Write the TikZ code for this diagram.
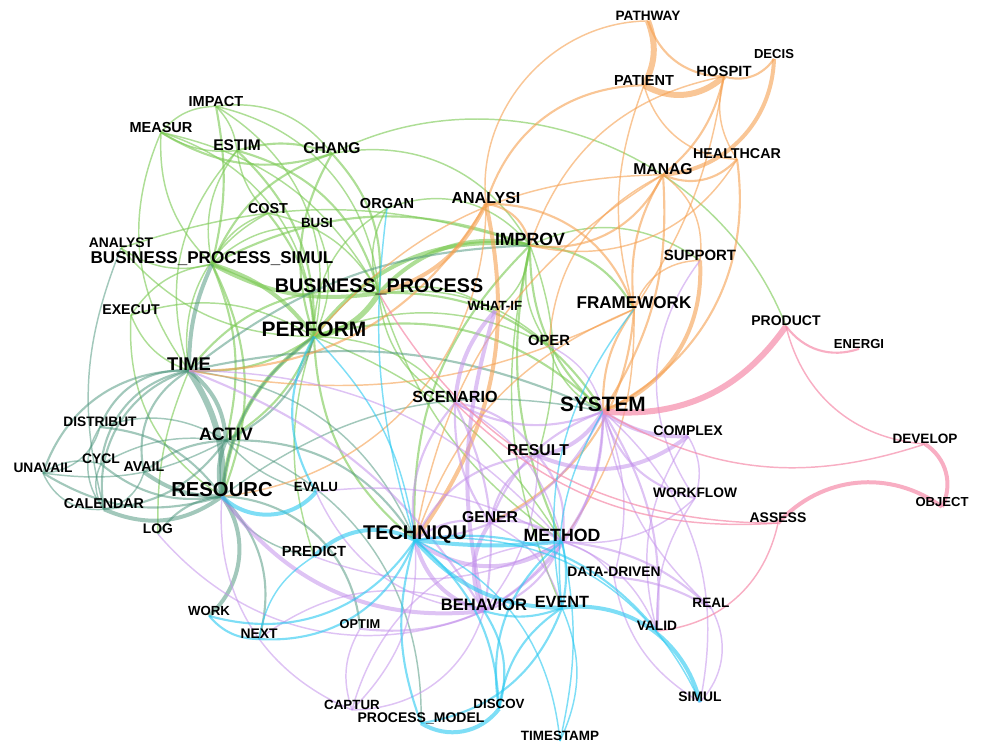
\documentclass[tikz,border=0pt]{standalone}
\usepackage{fontspec}
\setmainfont{Liberation Sans}
\usetikzlibrary{backgrounds}
\definecolor{cGreen}{RGB}{120,200,80}
\definecolor{cTeal}{RGB}{70,145,120}
\definecolor{cOrange}{RGB}{245,160,80}
\definecolor{cPurple}{RGB}{195,145,235}
\definecolor{cCyan}{RGB}{40,200,240}
\definecolor{cPink}{RGB}{245,140,170}
\begin{document}
\begin{tikzpicture}[x=0.75pt,y=-0.75pt,
  lb/.style={font=\bfseries\fontsize{#1}{#1}\selectfont,inner sep=0pt,text depth=0pt},
  eg/.style={draw=cGreen,draw opacity=0.6},
  et/.style={draw=cTeal,draw opacity=0.5},
  eo/.style={draw=cOrange,draw opacity=0.6},
  ep/.style={draw=cPurple,draw opacity=0.55},
  ec/.style={draw=cCyan,draw opacity=0.6},
  ek/.style={draw=cPink,draw opacity=0.7},
  arc/.style={out={1.2*(#1)},in={180-1.2*(#1)},relative}]
\useasboundingbox (0,0) rectangle (981,743);

% keyword labels
\node[lb=10.2] (pathway) at (648,16) {PATHWAY};
\node[lb=9.8] (decis) at (774,54) {DECIS};
\node[lb=11.1] (hospit) at (724,71) {HOSPIT};
\node[lb=10.9] (patient) at (644,80) {PATIENT};
\node[lb=10.7] (healthcar) at (737,154) {HEALTHCAR};
\node[lb=11.8] (manag) at (663,169) {MANAG};
\node[lb=12] (analysi) at (486,198) {ANALYSI};
\node[lb=13.3] (improv) at (530,239) {IMPROV};
\node[lb=11.2] (support) at (700,255) {SUPPORT};
\node[lb=12.8] (framework) at (634,303) {FRAMEWORK};
\node[lb=11.1] (oper) at (549,340) {OPER};
\node[lb=10] (whatif) at (495,306) {WHAT-IF};
\node[lb=10.5] (product) at (786,321) {PRODUCT};
\node[lb=9.8] (energi) at (859,344) {ENERGI};
\node[lb=10.2] (develop) at (925,439) {DEVELOP};
\node[lb=9.8] (object) at (942,502) {OBJECT};
\node[lb=10.5] (assess) at (778,518) {ASSESS};
\node[lb=15.6] (system) at (603,404) {SYSTEM};
\node[lb=10.5] (complex) at (688,431) {COMPLEX};
\node[lb=11.8] (result) at (538,450) {RESULT};
\node[lb=10.3] (workflow) at (695,493) {WORKFLOW};
\node[lb=12.1] (scenario) at (455,397) {SCENARIO};
\node[lb=11.8] (gener) at (490,517) {GENER};
\node[lb=13.3] (method) at (562,535) {METHOD};
\node[lb=10.4] (datadriven) at (614,572) {DATA-DRIVEN};
\node[lb=12.4] (behavior) at (484,605) {BEHAVIOR};
\node[lb=12.2] (event) at (562,602) {EVENT};
\node[lb=10.2] (real) at (711,603) {REAL};
\node[lb=10.3] (valid) at (657,626) {VALID};
\node[lb=10.4] (simul) at (700,697) {SIMUL};
\node[lb=14.9] (techniqu) at (415,533) {TECHNIQU};
\node[lb=10] (discov) at (499,704) {DISCOV};
\node[lb=10.5] (procmodel) at (421,718) {PROCESS\_MODEL};
\node[lb=10.1] (timestamp) at (560,736) {TIMESTAMP};
\node[lb=10] (captur) at (352,705) {CAPTUR};
\node[lb=9.6] (optim) at (360,624) {OPTIM};
\node[lb=10.4] (next) at (259,634) {NEXT};
\node[lb=9.9] (work) at (209,611) {WORK};
\node[lb=11] (predict) at (314,551) {PREDICT};
\node[lb=10] (evalu) at (316,487) {EVALU};
\node[lb=15.2] (resourc) at (222,489) {RESOURC};
\node[lb=10.4] (log) at (158,529) {LOG};
\node[lb=10.7] (calendar) at (104,504) {CALENDAR};
\node[lb=10.7] (avail) at (144,467) {AVAIL};
\node[lb=10.3] (unavail) at (43,468) {UNAVAIL};
\node[lb=10.4] (cycl) at (101,459) {CYCL};
\node[lb=10.3] (distribut) at (100,422) {DISTRIBUT};
\node[lb=13.5] (activ) at (226,434) {ACTIV};
\node[lb=13.8] (time) at (189,364) {TIME};
\node[lb=10.6] (execut) at (131,310) {EXECUT};
\node[lb=15.7] (perform) at (314,329) {PERFORM};
\node[lb=14.8] (bp) at (379,286) {BUSINESS\_PROCESS};
\node[lb=12.8] (bps) at (212,258) {BUSINESS\_PROCESS\_SIMUL};
\node[lb=10.4] (analyst) at (121,243) {ANALYST};
\node[lb=10] (busi) at (317,223) {BUSI};
\node[lb=10.8] (cost) at (268,208) {COST};
\node[lb=10.9] (organ) at (387,203) {ORGAN};
\node[lb=11.7] (chang) at (332,148) {CHANG};
\node[lb=11.6] (estim) at (237,145) {ESTIM};
\node[lb=10.9] (measur) at (161,127) {MEASUR};
\node[lb=10.9] (impact) at (216,101) {IMPACT};

\begin{pgfonlayer}{background}
% green links
\foreach \a/\b/\w/\t in {impact/measur/1.1/-20, impact/estim/1.1/15, impact/bps/1.6/10,
  impact/perform/1.1/30, impact/chang/1.1/25, impact/bp/1.1/30, measur/estim/1.1/-15,
  measur/chang/1.6/-20, measur/bps/1.1/-20, measur/perform/1.1/30, measur/bp/1.1/20,
  measur/time/1.1/-25, estim/chang/1.6/15, estim/cost/1.1/-15, estim/bps/1.1/-20,
  estim/perform/1.6/20, estim/bp/1.6/25, estim/time/1.1/-25, chang/bp/1.6/20,
  chang/perform/1.6/-20, chang/improv/1.1/30, chang/bps/1.6/-20, chang/product/1.1/40,
  cost/bps/1.1/-20, cost/perform/1.6/15, cost/time/1.1/-30, cost/bp/1.1/20,
  busi/perform/1.1/20, busi/bps/1.1/-20, organ/bp/1.1/-20, organ/perform/1.1/-25,
  organ/improv/1.1/30, analyst/bps/1.1/-20, analyst/perform/1.1/-20, analyst/improv/1.1/15,
  bps/perform/3/15, bps/bp/3/-15, bps/execut/1.1/-20, bps/improv/1.6/20, bps/resourc/1.6/20,
  bps/activ/1.6/15, bp/perform/4/20, bp/improv/3/25, bp/time/1.6/-25, bp/whatif/1.1/20,
  bp/scenario/1.1/-25, bp/system/1.6/25, bp/oper/1.1/20, bp/method/1.1/-15,
  perform/improv/3/25, perform/time/1.6/15, perform/resourc/3/-20, perform/activ/1.6/15,
  perform/system/1.6/25, perform/techniqu/1.6/-20, perform/execut/1.1/-20, perform/oper/1.1/20,
  perform/predict/1.1/-15, perform/scenario/1.1/20, perform/method/1.1/15,
  improv/system/1.6/-20, improv/oper/1.1/-20, improv/whatif/1.1/20, improv/framework/1.6/25,
  improv/method/1.6/-15, improv/techniqu/1.6/-20, improv/support/1.1/25, improv/event/1.1/-15,
  improv/result/1.1/15, execut/time/1.1/-20, execut/resourc/1.1/-25, log/time/1.1/10,
  oper/system/1.1/-20}
  \draw[eg,line width=\w pt] (\a.south) to[arc=\t] (\b.south);
% teal links
\foreach \a/\b/\w/\t in {time/resourc/4.5/15, time/activ/3/20, activ/resourc/3/-15,
  time/distribut/1.6/-30, time/cycl/1.6/-30, time/unavail/1.6/-30, time/avail/1.6/-30,
  time/calendar/1.6/-35, resourc/distribut/1.6/-20, resourc/unavail/1.6/20, resourc/cycl/1.6/20,
  resourc/avail/3/15, resourc/calendar/3/25, resourc/log/1.6/-20, activ/distribut/1.1/-20,
  activ/unavail/1.1/15, activ/calendar/1.6/20, activ/avail/1.6/-15, activ/cycl/1.1/-15,
  calendar/unavail/1.1/30, calendar/distribut/1.1/30, calendar/cycl/1.1/25, calendar/avail/1.1/-25,
  distribut/unavail/1.1/30, cycl/unavail/1.1/-20, resourc/work/3/35, resourc/next/1.6/25,
  resourc/optim/1.6/35, activ/procmodel/1.1/30, time/system/1.6/15, time/improv/1.6/15,
  activ/perform/1.6/-20, resourc/perform/1.6/20, bps/time/3/-10, resourc/system/1.1/20,
  time/techniqu/1.1/25, activ/techniqu/1.6/25, resourc/predict/1.1/-20, calendar/analyst/1.1/15,
  activ/evalu/1.1/-15}
  \draw[et,line width=\w pt] (\a.south) to[arc=\t] (\b.south);
% orange links
\foreach \a/\b/\w/\t in {pathway/patient/4.5/20, hospit/pathway/1.6/30, analysi/pathway/1.1/40,
  hospit/patient/4.5/30, analysi/patient/1.6/30, decis/hospit/1.6/30, decis/manag/3/35,
  hospit/healthcar/1.1/-20, hospit/manag/1.6/15, patient/healthcar/1.1/-30,
  patient/framework/1.1/-15, healthcar/manag/1.6/30, healthcar/system/1.6/30,
  healthcar/improv/1.1/30, manag/improv/1.6/30, manag/framework/1.6/-15, manag/system/1.6/15,
  manag/support/1.1/25, manag/techniqu/1.1/-20, manag/oper/1.1/-25, analysi/improv/1.6/30,
  analysi/bp/3/20, analysi/techniqu/3/20, analysi/framework/1.6/30, framework/system/1.6/-15,
  framework/techniqu/1.1/-20, framework/gener/1.6/25, framework/method/1.1/15,
  support/system/3/30, support/framework/1.1/-30, time/framework/1.1/-15, time/analysi/1.6/-25,
  resourc/analysi/1.1/-35, perform/manag/1.1/20, hospit/improv/1.1/-25, hospit/framework/1.1/10}
  \draw[eo,line width=\w pt] (\a.south) to[arc=\t] (\b.south);
% purple links
\foreach \a/\b/\w/\t in {system/complex/3/-15, result/complex/3/-25, system/result/3/20,
  system/workflow/1.6/-25, system/method/1.6/15, system/gener/1.6/-20, system/behavior/1.6/25,
  system/datadriven/1.1/15, system/real/1.1/-15, system/valid/1.6/15, system/simul/1.1/25,
  system/scenario/1.6/20, system/techniqu/1.6/25, system/oper/1.1/-20, whatif/scenario/3/-15,
  whatif/behavior/3/-12, scenario/result/1.6/20, scenario/gener/1.6/-15, scenario/method/1.1/20,
  scenario/behavior/1.6/15, scenario/techniqu/1.6/-20, result/gener/1.6/-20, result/method/1.6/20,
  result/techniqu/1.6/-25, result/behavior/1.1/15, gener/method/1.6/20, gener/techniqu/1.6/-20,
  gener/behavior/3/-25, gener/event/1.1/20, method/techniqu/3/30, method/behavior/1.6/20,
  method/datadriven/1.1/15, method/workflow/1.1/-20, method/real/1.6/15, method/valid/1.1/20,
  behavior/techniqu/3/25, resourc/behavior/3/-25, time/behavior/1.6/15, time/method/1.1/20,
  behavior/captur/1.1/30, behavior/next/1.1/-25, datadriven/real/1.6/10, real/simul/1.1/30,
  workflow/valid/1.1/-15, complex/workflow/1.1/20, support/workflow/1.1/-30, complex/valid/1.1/-20,
  datadriven/simul/1.1/-20, captur/optim/1.1/20, captur/techniqu/1.1/-20, captur/method/1.1/30,
  log/behavior/1.1/-30, evalu/behavior/1.1/-25, evalu/method/1.1/15, optim/method/1.6/-25,
  resourc/captur/1.1/-30, predict/method/1.1/-20}
  \draw[ep,line width=\w pt] (\a.south) to[arc=\t] (\b.south);
% cyan links
\foreach \a/\b/\w/\t in {techniqu/event/3/-20, techniqu/method/3/-5, techniqu/predict/3/-30,
  techniqu/next/1.6/30, work/techniqu/1.6/-30, techniqu/discov/1.6/20, techniqu/procmodel/1.6/-15,
  techniqu/timestamp/1.1/25, techniqu/simul/1.1/30, techniqu/valid/1.6/25, event/simul/3/35,
  event/discov/1.6/-20, event/timestamp/1.1/20, event/procmodel/1.6/25, event/method/1.6/-10,
  event/behavior/1.6/15, framework/event/1.1/-20, system/event/1.1/-15, procmodel/discov/3/-35,
  method/discov/1.6/-25, method/timestamp/1.1/10, resourc/evalu/3/-40, perform/evalu/1.6/-25,
  perform/techniqu/1.1/15, organ/techniqu/1.1/-10, next/work/1.6/20, next/predict/1.1/20,
  behavior/discov/1.6/20}
  \draw[ec,line width=\w pt] (\a.south) to[arc=\t] (\b.south);
% pink links
\foreach \a/\b/\w/\t in {product/system/4.5/25, product/energi/1.6/-30, product/develop/1.1/-30,
  develop/object/3/35, assess/object/3/35, develop/system/1.1/20, bp/assess/1.1/-25,
  scenario/assess/1.1/-20, assess/valid/1.1/30}
  \draw[ek,line width=\w pt] (\a.south) to[arc=\t] (\b.south);
\end{pgfonlayer}
\end{tikzpicture}
\end{document}
